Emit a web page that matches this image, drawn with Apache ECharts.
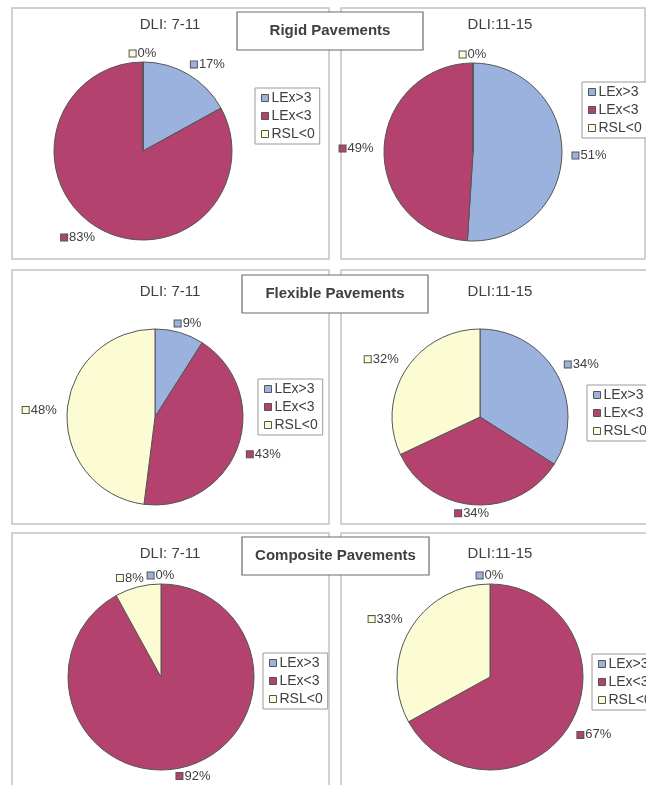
<!DOCTYPE html>
<html>
<head>
<meta charset="utf-8">
<style>
  html, body { margin: 0; padding: 0; background: #ffffff; }
  #chart { width: 646px; height: 785px; }
</style>
<script src="https://cdn.jsdelivr.net/npm/echarts@6/dist/echarts.min.js"></script>
</head>
<body>
<div id="chart"></div>
<script>
// Share of pavement sections per condition class (%)
const categories = ['LEx>3', 'LEx<3', 'RSL<0'];
const rigid711 = [17, 83, 0];
const rigid1115 = [51, 49, 0];
const flexible711 = [9, 43, 48];
const flexible1115 = [34, 34, 32];
const composite711 = [0, 92, 8];
const composite1115 = [0, 67, 33];
const dliTitles = ['DLI: 7-11', 'DLI:11-15'];
const groupTitles = ['Rigid Pavements', 'Flexible Pavements', 'Composite Pavements'];

const sliceColors = ['#9cb2de', '#b3426f', '#fbfbd4'];
const textColor = '#404040';
const font = 'Liberation Sans, Arial, sans-serif';

// Panel grid: one row per pavement type, one column per DLI range
const rows = [
  { values: [rigid711, rigid1115], panelTop: 8, panelBottom: 259, titleY: 25, box: [237, 12, 186],
    centers: [[143, 151], [473, 152]], radius: [89, 89], legends: [[255, 88], [582, 82]] },
  { values: [flexible711, flexible1115], panelTop: 270, panelBottom: 524, titleY: 292, box: [242, 275, 186],
    centers: [[155, 417], [480, 417]], radius: [88, 88], legends: [[258, 379], [587, 385]] },
  { values: [composite711, composite1115], panelTop: 533, panelBottom: 810, titleY: 554, box: [242, 537, 187],
    centers: [[161, 677], [490, 677]], radius: [93, 93], legends: [[263, 653], [592, 654]] }
];
const columns = [
  { panelLeft: 12, panelRight: 329, titleX: 170 },
  { panelLeft: 341, panelRight: 645, titleX: 500 }
];

const richMarks = { t: { fontSize: 13, color: textColor, fontFamily: font, padding: [0, 0, 0, 2] } };
sliceColors.forEach((c, i) => {
  richMarks['m' + i] = { width: 6, height: 6, backgroundColor: c, borderColor: '#555', borderWidth: 1 };
});

// Value labels sit just outside the rim; the label box slides round the
// anchor point so it hugs the slice it belongs to (centred at top/bottom).
function rimLabels(values, center, radius) {
  const total = values.reduce((a, b) => a + b, 0);
  const before = [];
  let acc = 0;
  values.forEach(v => { before.push(acc); acc += v; });
  const clamp = v => Math.max(-1, Math.min(1, v));
  return params => {
    const i = params.dataIndex;
    const theta = (-90 + (before[i] + values[i] / 2) / total * 360) * Math.PI / 180;
    const c = Math.cos(theta), s = Math.sin(theta);
    const w = params.labelRect.width, h = params.labelRect.height;
    const gap = 2 + 8 * c * c;
    return {
      x: center[0] + (radius + gap) * c + clamp(2 * c) * w / 2,
      y: center[1] + (radius + gap) * s + clamp(2 * s) * h / 2,
      align: 'center',
      verticalAlign: 'middle',
      hideOverlap: false
    };
  };
}

const series = [];
const legends = [];
const graphics = [];

rows.forEach((row, r) => {
  columns.forEach((col, c) => {
    const right = (r > 0 && c === 1) ? 680 : col.panelRight;
    graphics.push({
      type: 'rect', z: 0,
      shape: { x: col.panelLeft, y: row.panelTop, width: right - col.panelLeft, height: row.panelBottom - row.panelTop },
      style: { fill: '#ffffff', stroke: '#c2c2c2', lineWidth: 1.5 }
    });
    graphics.push({
      type: 'text', z: 5, x: col.titleX, y: row.titleY,
      style: { text: dliTitles[c], fill: textColor, font: '15px ' + font, textAlign: 'center', textVerticalAlign: 'middle' }
    });
    const values = row.values[c];
    series.push({
      type: 'pie',
      center: row.centers[c],
      radius: row.radius[c],
      startAngle: 90,
      clockwise: true,
      avoidLabelOverlap: false,
      minShowLabelAngle: 0,
      animation: false,
      silent: true,
      itemStyle: { borderColor: '#555', borderWidth: 1 },
      label: {
        position: 'outside',
        distanceToLabelLine: 0,
        formatter: p => `{m${p.dataIndex}| }{t|${p.value}%}`,
        rich: richMarks
      },
      labelLine: { show: false, length: 2, length2: 0 },
      labelLayout: rimLabels(values, row.centers[c], row.radius[c]),
      data: categories.map((name, i) => ({ name, value: values[i], itemStyle: { color: sliceColors[i] } }))
    });
    legends.push({
      orient: 'vertical',
      left: row.legends[c][0],
      top: row.legends[c][1],
      data: categories,
      icon: 'rect',
      itemWidth: 7,
      itemHeight: 7,
      itemGap: 4,
      selectedMode: false,
      backgroundColor: '#ffffff',
      borderColor: '#9a9a9a',
      borderWidth: 1,
      padding: [3, 5, 3, 6],
      itemStyle: { borderColor: '#555', borderWidth: 1 },
      textStyle: { fontSize: 14, color: textColor, fontFamily: font, lineHeight: 14, padding: [0, 0, 0, -2] }
    });
  });
  // Boxed section heading centred between the two panels of the row
  const [bx, by, bw] = row.box;
  graphics.push({
    type: 'rect', z: 50,
    shape: { x: bx, y: by, width: bw, height: 38 },
    style: { fill: '#ffffff', stroke: '#6a6a6a', lineWidth: 1.2 }
  });
  graphics.push({
    type: 'text', z: 51, x: bx + bw / 2, y: by + 19,
    style: { text: groupTitles[r], fill: textColor, font: 'bold 15px ' + font, textAlign: 'center', textVerticalAlign: 'middle' }
  });
});

const chart = echarts.init(document.getElementById('chart'), null, { renderer: 'canvas' });
chart.setOption({
  backgroundColor: '#ffffff',
  color: sliceColors,
  legend: legends,
  graphic: graphics,
  series: series
});
</script>
</body>
</html>
